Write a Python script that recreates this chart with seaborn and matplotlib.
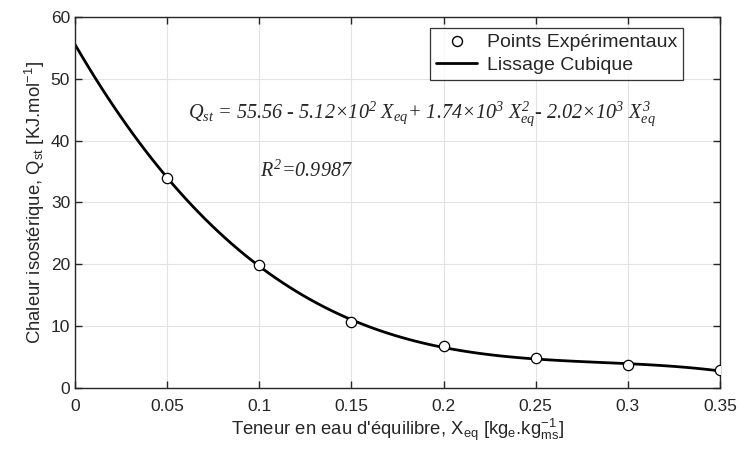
import numpy as np
import pandas as pd
import matplotlib
matplotlib.use("Agg")
from matplotlib import pyplot as plt
from matplotlib.lines import Line2D
import seaborn as sns

# données
x_eq = [0.05, 0.10, 0.15, 0.20, 0.25, 0.30, 0.35]
q_st = [34.0, 19.9, 10.6, 6.85, 4.85, 3.65, 2.85]
x_ticks = [0, 0.05, 0.1, 0.15, 0.2, 0.25, 0.3, 0.35]
y_ticks = [0, 10, 20, 30, 40, 50, 60]

df = pd.DataFrame({"x": x_eq, "q": q_st})

sns.set_style("whitegrid")
plt.rcParams["font.family"] = ["Liberation Sans", "DejaVu Sans"]
plt.rcParams["mathtext.fontset"] = "custom"
plt.rcParams["mathtext.rm"] = "Liberation Serif:italic"
plt.rcParams["mathtext.it"] = "Liberation Serif:italic"

fig = plt.figure(figsize=(7.38, 4.51), dpi=100)
ax = fig.add_axes([0.1016, 0.1397, 0.874, 0.8226])
ax.set_xlim(0, 0.35)
ax.set_ylim(0, 60)

# lissage cubique (ajustement d'ordre 3 fait par seaborn)
sns.regplot(data=df, x="x", y="q", order=3, ci=None, truncate=False,
            scatter=False, line_kws={"color": "black", "lw": 2.0}, ax=ax)
sns.scatterplot(data=df, x="x", y="q", marker="o", s=55, color="white",
                edgecolor="black", linewidth=0.9, zorder=5, ax=ax)

ax.set_xticks(x_ticks)
ax.set_xticklabels(["%g" % t for t in x_ticks])
ax.set_yticks(y_ticks)
ax.tick_params(direction="in", length=5, width=1, colors="#262626",
               labelsize=12.5, top=True, right=True, bottom=True, left=True)
ax.tick_params(axis="x", pad=8)
for s in ax.spines.values():
    s.set_color("#262626")
    s.set_linewidth(1)
ax.grid(True, color="#e3e3e3", lw=0.8)

ax.set_xlabel(r"Teneur en eau d'équilibre, X$\mathregular{_{eq}}$ [kg$\mathregular{_{e}}$.kg$\mathregular{^{-1}_{ms}}$]",
              fontsize=13.3, color="#262626", labelpad=2)
ax.set_ylabel(r"Chaleur isostérique, Q$\mathregular{_{st}}$ [KJ.mol$\mathregular{^{-1}}$]",
              fontsize=13.3, color="#262626", labelpad=3)

ax.text(0.0613, 43.7,
        r"$Q_{st}$ = 55.56 - 5.12$\times10^2$ $X_{eq}$+ 1.74$\times10^3$ $X_{eq}^2$- 2.02$\times10^3$ $X_{eq}^3$",
        ha="left", va="baseline", fontsize=14.6,
        family="Liberation Serif", style="italic")
ax.text(0.1004, 34.1, r"$R^2$=0.9987", ha="left", va="baseline", fontsize=14.5,
        family="Liberation Serif", style="italic")

handles = [Line2D([], [], marker="o", ls="none", mfc="white", mec="black", ms=7.2),
           Line2D([], [], color="black", lw=2.0)]
leg = ax.legend(handles, ["Points Expérimentaux", "Lissage Cubique"],
                loc="upper right", bbox_to_anchor=(0.9426, 0.9704), fontsize=14,
                frameon=True, fancybox=False, borderpad=0.3, handlelength=2.1,
                handletextpad=0.5, labelspacing=0.25, borderaxespad=0)
leg.get_frame().set_edgecolor("black")
leg.get_frame().set_linewidth(0.9)

fig.savefig("out.png", dpi=100)
